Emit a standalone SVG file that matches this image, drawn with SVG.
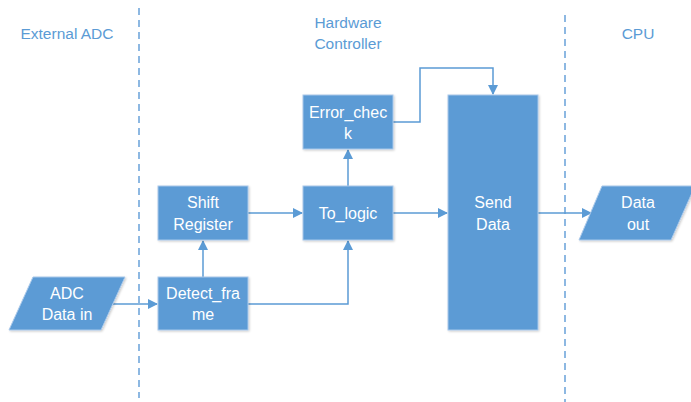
<svg xmlns="http://www.w3.org/2000/svg" width="691" height="402" viewBox="0 0 691 402">
<defs>
<marker id="arr" markerWidth="10" markerHeight="10" refX="9" refY="5" orient="auto" markerUnits="userSpaceOnUse">
<path d="M0,0 L10,5 L0,10 Z" fill="#5B9BD5"/>
</marker>
<filter id="sh" x="-10%" y="-10%" width="130%" height="130%">
<feDropShadow dx="1" dy="1" stdDeviation="1" flood-color="#000" flood-opacity="0.2"/>
</filter>
</defs>
<style>
.box{fill:#5B9BD5;stroke:#A9C8EA;stroke-width:1;filter:url(#sh)}
.t{font-family:"Liberation Sans",Arial,sans-serif;font-size:16px;fill:#FFFFFF;text-anchor:middle}
.h{font-family:"Liberation Sans",Arial,sans-serif;font-size:15.5px;fill:#5B9BD5;text-anchor:middle}
.c{fill:none;stroke:#5B9BD5;stroke-width:1.5}
.d{fill:none;stroke:#8DB8E2;stroke-width:2;stroke-dasharray:7 5}
</style>
<rect width="691" height="402" fill="#FFFFFF"/>
<g id="lanes">
<line class="d" x1="139" y1="8" x2="139" y2="398"/>
<line class="d" x1="565" y1="15" x2="565" y2="402"/>
<text class="h" x="67" y="39">External ADC</text>
<text class="h" x="348" y="28">Hardware</text>
<text class="h" x="348" y="49">Controller</text>
<text class="h" x="638" y="39">CPU</text>
</g>
<g id="connectors">
<line class="c" x1="113" y1="304" x2="157" y2="304" marker-end="url(#arr)"/>
<line class="c" x1="203" y1="277" x2="203" y2="241" marker-end="url(#arr)"/>
<polyline class="c" points="248,304 348,304 348,241" marker-end="url(#arr)"/>
<line class="c" x1="248" y1="213" x2="302" y2="213" marker-end="url(#arr)"/>
<line class="c" x1="348" y1="186" x2="348" y2="150" marker-end="url(#arr)"/>
<polyline class="c" points="393,122 420,122 420,68 493,68 493,94" marker-end="url(#arr)"/>
<line class="c" x1="393" y1="213" x2="447" y2="213" marker-end="url(#arr)"/>
<line class="c" x1="538" y1="213" x2="591" y2="213" marker-end="url(#arr)"/>
</g>
<g id="adc-data-in">
<polygon class="box" points="33,277 125,277 101,330 9,330"/>
<text class="t" x="67" y="299">ADC</text>
<text class="t" x="67" y="320">Data in</text>
</g>
<g id="detect-frame">
<rect class="box" x="158" y="277" width="90" height="53"/>
<text class="t" x="203" y="299">Detect_fra</text>
<text class="t" x="203" y="320">me</text>
</g>
<g id="shift-register">
<rect class="box" x="158" y="186" width="90" height="54"/>
<text class="t" x="203" y="208">Shift</text>
<text class="t" x="203" y="230">Register</text>
</g>
<g id="to-logic">
<rect class="box" x="303" y="186" width="90" height="54"/>
<text class="t" x="348" y="219">To_logic</text>
</g>
<g id="error-check">
<rect class="box" x="303" y="95" width="90" height="54"/>
<text class="t" x="348" y="118">Error_chec</text>
<text class="t" x="348" y="139">k</text>
</g>
<g id="send-data">
<rect class="box" x="448" y="95" width="90" height="235"/>
<text class="t" x="493" y="208">Send</text>
<text class="t" x="493" y="230">Data</text>
</g>
<g id="data-out">
<polygon class="box" points="602,186 695,186 671,240 579,240"/>
<text class="t" x="638" y="208">Data</text>
<text class="t" x="638" y="230">out</text>
</g>
</svg>
